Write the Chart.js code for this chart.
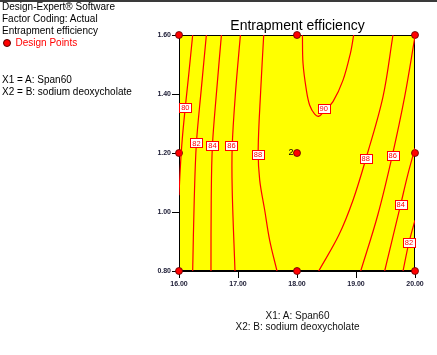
<!DOCTYPE html>
<html>
<head>
<meta charset="utf-8">
<script src="https://cdn.jsdelivr.net/npm/chart.js@4.4.1/dist/chart.umd.min.js"></script>
<style>
  html, body { margin:0; padding:0; background:#fff; }
  body { width:437px; height:355px; position:relative; overflow:hidden; font-family:"Liberation Sans", Arial, sans-serif; }
  #topbar { position:absolute; left:0; top:0; width:437px; height:2px; background:#3a3a3a; }
  canvas { position:absolute; left:0; top:0; }
  .t { position:absolute; font-size:10px; line-height:12px; white-space:nowrap; color:#000; }
  .c { text-align:center; width:240px; left:177.5px; color:#111; }
  #title { position:absolute; left:147.5px; width:300px; text-align:center; top:18px; font-size:14px; line-height:14px; color:#000; white-space:nowrap; }
  .dot { position:absolute; left:2.5px; top:39px; width:6px; height:6px; border-radius:50%; background:#ff0000; border:0.7px solid #500; }
</style>
</head>
<body>
<canvas id="c" width="437" height="355"></canvas>
<div id="topbar"></div>
<div class="t" style="left:2px;top:1px;">Design-Expert® Software</div>
<div class="t" style="left:2px;top:12.8px;">Factor Coding: Actual</div>
<div class="t" style="left:2px;top:24.6px;">Entrapment efficiency</div>
<div class="dot"></div>
<div class="t" style="left:15.5px;top:36.6px;color:#ff0000;">Design Points</div>
<div class="t" style="left:2px;top:73.7px;">X1 = A: Span60</div>
<div class="t" style="left:2px;top:85.5px;">X2 = B: sodium deoxycholate</div>
<div id="title">Entrapment efficiency</div>
<div class="t c" style="top:309.5px;">X1: A: Span60</div>
<div class="t c" style="top:320.7px;">X2: B: sodium deoxycholate</div>
<script>
// ---- data ----
const xTicks = [16, 17, 18, 19, 20];
const yTicks = [0.8, 1.0, 1.2, 1.4, 1.6];

const contour80  = [[16.232,1.600],[16.164,1.464],[16.105,1.352],[16.054,1.244],[16.020,1.142],[16.000,1.057]];
const contour82L = [[16.464,1.600],[16.376,1.413],[16.295,1.233],[16.258,1.040],[16.232,0.800]];
const contour84L = [[16.719,1.600],[16.639,1.413],[16.566,1.223],[16.546,1.040],[16.542,0.800]];
const contour86L = [[17.041,1.600],[16.961,1.413],[16.902,1.223],[16.902,1.074],[16.949,0.800]];
const contour88L = [[17.436,1.600],[17.385,1.413],[17.342,1.210],[17.368,1.108],[17.453,1.006],[17.537,0.904],[17.661,0.800]];
const contour90  = [[18.092,1.600],[18.102,1.504],[18.159,1.413],[18.215,1.362],[18.300,1.332],[18.373,1.325],[18.470,1.345],[18.610,1.374],[18.780,1.447],[18.905,1.538],[18.961,1.600]];
const contour88R = [[19.627,1.600],[19.458,1.391],[19.176,1.186],[18.949,1.040],[18.707,0.921],[18.368,0.800]];
const contour86R = [[20.000,1.595],[19.825,1.391],[19.617,1.193],[19.368,0.989],[19.080,0.800]];
const contour84R = [[20.000,1.216],[19.876,1.125],[19.758,1.026],[19.486,0.800]];
const contour82R = [[20.000,0.972],[19.898,0.897],[19.797,0.800]];

const labelValues = [80, 82, 84, 86, 88, 90, 88, 86, 84, 82];
const labelX = [16.108, 16.295, 16.566, 16.888, 17.339, 18.453, 19.164, 19.622, 19.758, 19.898];
const labelY = [1.353, 1.234, 1.224, 1.224, 1.195, 1.351, 1.182, 1.193, 1.025, 0.897];

const designX = [16, 16, 16, 18, 18, 18, 20, 20, 20];
const designY = [0.8, 1.2, 1.6, 0.8, 1.2, 1.6, 0.8, 1.2, 1.6];
const replicateX = [18];
const replicateY = [1.2];
const replicateText = ["2"];

// ---- build chart ----
const contours = [contour80, contour82L, contour84L, contour86L, contour88L, contour90, contour88R, contour86R, contour84R, contour82R];
const toXY = arr => arr.map(p => ({x: p[0], y: p[1]}));

const datasets = contours.map(c => ({
  data: toXY(c),
  showLine: true,
  borderColor: '#ff0000',
  borderWidth: 1.2,
  pointRadius: 0,
  tension: 0.35,
  fill: false
}));
datasets.push({
  data: designX.map((x, i) => ({x, y: designY[i]})),
  showLine: false,
  pointRadius: 3.5,
  pointBackgroundColor: '#ff0000',
  pointBorderColor: '#5a0000',
  pointBorderWidth: 0.8,
  clip: false
});

const L = 179, R = 415, T = 35, B = 271, W = 437, H = 355;

const areaPlugin = {
  id: 'area',
  beforeDraw(chart) {
    const {ctx, chartArea: a} = chart;
    ctx.save();
    ctx.fillStyle = '#ffff00';
    ctx.fillRect(a.left, a.top, a.right - a.left, a.bottom - a.top);
    ctx.restore();
  },
  beforeDatasetsDraw(chart) {
    const {ctx, chartArea: a} = chart;
    ctx.save();
    ctx.strokeStyle = '#000';
    ctx.lineWidth = 1;
    ctx.strokeRect(a.left + 0.5, a.top + 0.5, a.right - a.left - 1, a.bottom - a.top - 1);
    ctx.restore();
  },
  afterDatasetsDraw(chart) {
    const {ctx} = chart;
    const xs = chart.scales.x, ys = chart.scales.y;
    ctx.save();
    ctx.font = '7.5px "Liberation Sans", Arial, sans-serif';
    ctx.textAlign = 'center';
    ctx.textBaseline = 'middle';
    labelValues.forEach((v, i) => {
      const px = xs.getPixelForValue(labelX[i]);
      const py = ys.getPixelForValue(labelY[i]);
      const txt = String(v);
      const tw = ctx.measureText(txt).width;
      const bw = Math.round(tw + 4), bh = 9;
      const bx = Math.round(px - bw / 2) + 0.5, by = Math.round(py - bh / 2) + 0.5;
      ctx.fillStyle = '#fff';
      ctx.fillRect(bx, by, bw, bh);
      ctx.strokeStyle = '#ff0000';
      ctx.lineWidth = 1;
      ctx.strokeRect(bx, by, bw, bh);
      ctx.fillStyle = '#ff0000';
      ctx.fillText(txt, px, py + 0.5);
    });
    ctx.font = '9px "Liberation Sans", Arial, sans-serif';
    ctx.textAlign = 'right';
    ctx.fillStyle = '#000';
    replicateX.forEach((x, i) => {
      const px = xs.getPixelForValue(x);
      const py = ys.getPixelForValue(replicateY[i]);
      ctx.fillText(replicateText[i], px - 3.5, py - 0.5);
    });
    ctx.restore();
  }
};

const tickFont = {family: '"Liberation Sans", Arial, sans-serif', size: 7, weight: 'bold'};

new Chart(document.getElementById('c'), {
  type: 'scatter',
  data: { datasets },
  plugins: [areaPlugin],
  options: {
    responsive: false,
    animation: false,
    events: [],
    layout: { padding: { top: T, right: W - R, left: 0, bottom: 0 } },
    plugins: { legend: { display: false }, tooltip: { enabled: false }, title: { display: false } },
    scales: {
      x: {
        type: 'linear',
        min: xTicks[0], max: xTicks[xTicks.length - 1],
        afterBuildTicks: s => { s.ticks = xTicks.map(v => ({value: v})); },
        afterFit: s => { s.height = H - B; },
        ticks: { callback: v => Number(v).toFixed(2), font: tickFont, color: '#1a1a33', padding: 2, maxRotation: 0, autoSkip: false },
        grid: { drawOnChartArea: false, drawTicks: true, tickLength: 7, color: '#000', lineWidth: 1 },
        border: { display: true, color: '#000', width: 1 }
      },
      y: {
        type: 'linear',
        min: yTicks[0], max: yTicks[yTicks.length - 1],
        afterBuildTicks: s => { s.ticks = yTicks.map(v => ({value: v})); },
        afterFit: s => { s.width = L; },
        ticks: { callback: v => Number(v).toFixed(2), font: tickFont, color: '#1a1a33', padding: 1, autoSkip: false },
        grid: { drawOnChartArea: false, drawTicks: true, tickLength: 7, color: '#000', lineWidth: 1 },
        border: { display: true, color: '#000', width: 1 }
      }
    }
  }
});
</script>
</body>
</html>
